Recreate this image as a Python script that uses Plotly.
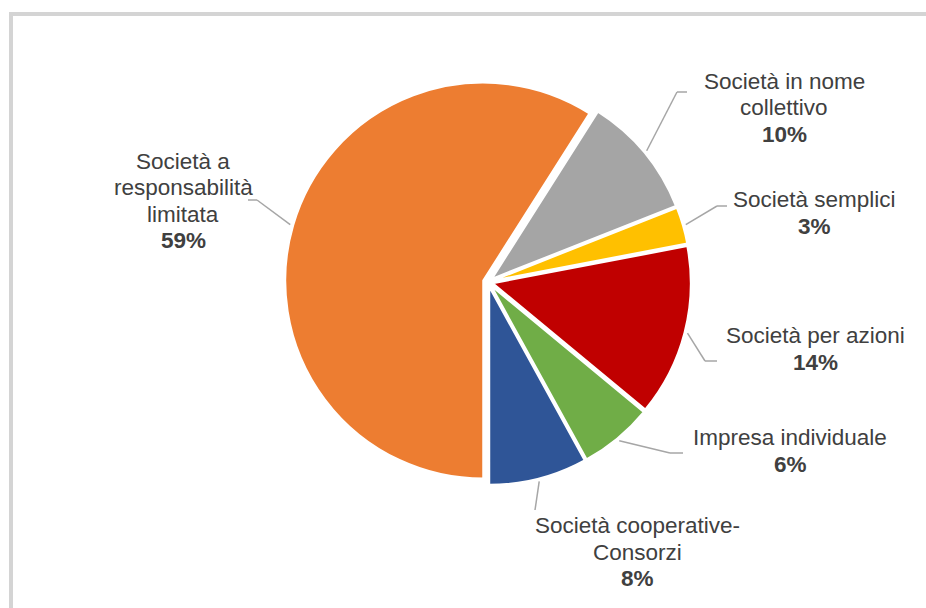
import math
import plotly.graph_objects as go

# ---- data ----
categories = [
    "Società a responsabilità limitata",
    "Società in nome collettivo",
    "Società semplici",
    "Società per azioni",
    "Impresa individuale",
    "Società cooperative-Consorzi",
]
shares = [59, 10, 3, 14, 6, 8]
label_lines = [
    ["Società a", "responsabilità", "limitata"],
    ["Società in nome", "collettivo"],
    ["Società semplici"],
    ["Società per azioni"],
    ["Impresa individuale"],
    ["Società cooperative-", "Consorzi"],
]
colors = ["#ED7D31", "#A5A5A5", "#FFC000", "#C00000", "#70AD47", "#2F5597"]

# ---- layout constants (pixels) ----
W, H = 926, 608
CX, CY = 488, 282          # pie centre
R = 198                    # pie radius
PULL = 0.025
ROTATION = 180
LINE_H = 26.5
FONT = dict(family="Liberation Sans, Arial", size=22.5, color="#404040")
# label block centres and leader-line elbows / ends (pixels)
label_pos = [(183, 201), (784, 108), (814, 213), (815, 349), (790, 451), (637, 552)]
elbows = [[(257, 200), (248, 200)],
          [(677, 92), (687, 92)],
          [(717, 206), (727, 206)],
          [(705, 361), (717, 361)],
          [(670, 453), (683, 453)],
          [(535, 510)]]

half = R * (1 + PULL)
dom_x = [(CX - half) / W, (CX + half) / W]
dom_y = [1 - (CY + half) / H, 1 - (CY - half) / H]

fig = go.Figure(go.Pie(
    labels=categories, values=shares, sort=False, direction="clockwise",
    rotation=ROTATION, pull=[PULL] * len(shares), textinfo="none",
    marker=dict(colors=colors, line=dict(color="white", width=2)),
    domain=dict(x=dom_x, y=dom_y), hoverinfo="label+percent",
    showlegend=False,
))

def px2paper(x, y):
    return x / W, 1 - y / H

shapes = []
annotations = []
total = sum(shares)
cum = 0.0
for i, v in enumerate(shares):
    mid = ROTATION + (cum + v / 2) / total * 360
    cum += v
    a = math.radians(mid)
    d = R * (1 + PULL) + 3
    sx, sy = CX + d * math.sin(a), CY - d * math.cos(a)
    pts = [(sx, sy)] + elbows[i]
    for (x0, y0), (x1, y1) in zip(pts[:-1], pts[1:]):
        p0 = px2paper(x0, y0)
        p1 = px2paper(x1, y1)
        shapes.append(dict(type="line", xref="paper", yref="paper",
                           x0=p0[0], y0=p0[1], x1=p1[0], y1=p1[1],
                           line=dict(color="#A6A6A6", width=1.5)))
    pct = round(v / total * 100)
    lines = label_lines[i] + [f"<b>{pct}%</b>"]
    n = len(lines)
    bx, by = label_pos[i]
    for j, txt in enumerate(lines):
        ly = by + (j - (n - 1) / 2) * LINE_H
        px, py = px2paper(bx, ly)
        annotations.append(dict(
            x=px, y=py, xref="paper", yref="paper", xanchor="center", yanchor="middle",
            text=txt, showarrow=False, align="center", font=FONT,
        ))

# outer frame
shapes.append(dict(type="rect", xref="paper", yref="paper",
                   x0=11 / W, y0=1 - 14 / H, x1=1.05, y1=-0.05,
                   line=dict(color="#D4D4D4", width=4), layer="below"))

fig.update_layout(
    width=W, height=H, margin=dict(l=0, r=0, t=0, b=0),
    paper_bgcolor="white", plot_bgcolor="white",
    shapes=shapes, annotations=annotations,
)
fig.write_html("out.html")
